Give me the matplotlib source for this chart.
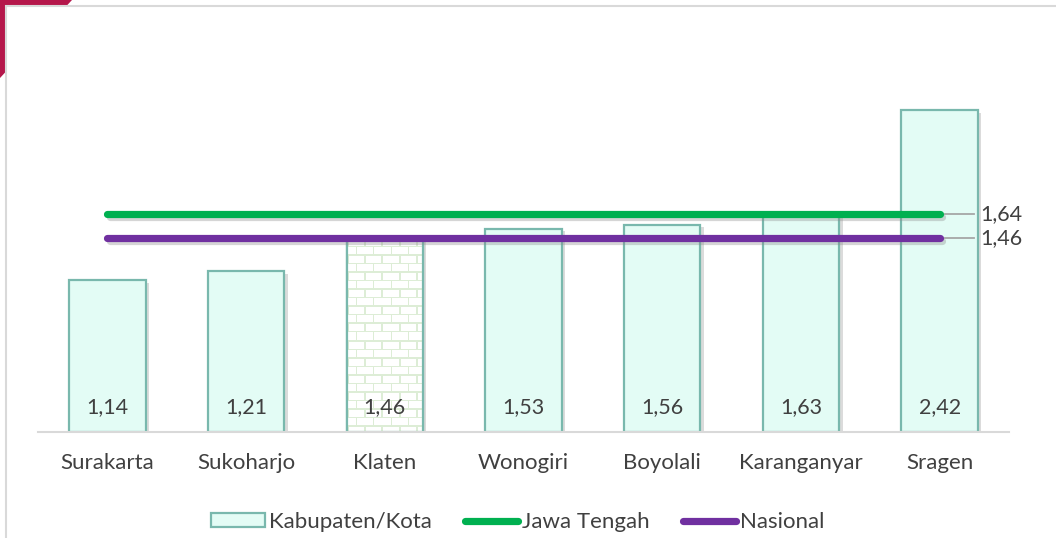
import numpy as np
import matplotlib
matplotlib.use("Agg")
import matplotlib.pyplot as plt
from matplotlib.patches import Rectangle, Polygon
from matplotlib.lines import Line2D
import matplotlib.patheffects as pe

categories = ["Surakarta", "Sukoharjo", "Klaten", "Wonogiri", "Boyolali", "Karanganyar", "Sragen"]
values = [1.14, 1.21, 1.46, 1.53, 1.56, 1.63, 2.42]
value_labels = ["1,14", "1,21", "1,46", "1,53", "1,56", "1,63", "2,42"]
jateng = 1.64
jateng_label = "1,64"
nasional = 1.46
nasional_label = "1,46"
highlight = "Klaten"
legend_labels = ["Kabupaten/Kota", "Jawa Tengah", "Nasional"]

W, H = 1056, 538
plt.rcParams['font.family'] = ['Lato', 'DejaVu Sans']
fig = plt.figure(figsize=(W / 100, H / 100), dpi=100)

# slide background decoration
bg = fig.add_axes([0, 0, 1, 1], zorder=-10)
bg.set_xlim(0, W); bg.set_ylim(H, 0); bg.axis('off')
bg.add_patch(Polygon([(0, 0), (72, 0), (0, 78)], closed=True, color='#B5174B', lw=0))
bg.add_patch(Rectangle((6, 6), W, H, facecolor='white', edgecolor='#D9D9D9', lw=1.5))

fill = '#E3FCF5'
edge = '#79B8AD'
txt = '#404040'
green = '#00B050'
purple = '#7030A0'

left, right = 38 / W, 1009 / W
bottom = 1 - 432 / H
top_px = 10
ax = fig.add_axes([left, bottom, right - left, (432 - top_px) / H])
ymax = (432 - top_px) / 133.0
ax.set_xlim(-0.5, len(categories) - 0.5)
ax.set_ylim(0, ymax)
ax.axis('off')

x = np.arange(len(categories))
bw = 0.55
shadow = [pe.SimplePatchShadow(offset=(2.5, -2), shadow_rgbFace='#999999', alpha=0.35), pe.Normal()]
bars = ax.bar(x, values, width=bw, color=fill, edgecolor=edge, linewidth=1.6, zorder=2)
for b in bars:
    b.set_path_effects(shadow)

# brick texture for highlighted category
hi = categories.index(highlight)
hb = bars[hi]
hb.set_facecolor('white')
bw_px, bh_px = 76, int(round(values[hi] * 133))
img = np.ones((bh_px, bw_px, 3))
mortar = np.array([0.87, 0.93, 0.84])
brick_h, brick_w = 8.5, 17
for r in range(bh_px):
    row = int(r // brick_h)
    if (r % brick_h) < 1.5:
        img[r, :, :] = mortar
    off = 0 if row % 2 == 0 else brick_w / 2
    for c in range(bw_px):
        if ((c + off) % brick_w) < 1.5:
            img[r, c, :] = mortar
im = ax.imshow(img, extent=(hi - bw / 2, hi + bw / 2, 0, values[hi]), aspect='auto',
               interpolation='nearest', zorder=2.5, origin='upper')
im.set_clip_path(hb)
ax.bar([hi], [values[hi]], width=bw, facecolor='none', edgecolor=edge, linewidth=1.6, zorder=2.6)
ax.set_xlim(-0.5, len(categories) - 0.5)
ax.set_ylim(0, ymax)

# baseline
ax.plot([-0.5, len(categories) - 0.5], [0, 0], color='#D9D9D9', lw=1.5, zorder=3, clip_on=False)

# value labels
for xi, lab in zip(x, value_labels):
    ax.text(xi, 0.19, lab, ha='center', va='center', fontsize=15.5, color=txt, zorder=4)

# category labels
for xi, lab in zip(x, categories):
    ax.text(xi, -31 / 133, lab, ha='center', va='center', fontsize=16, color=txt, clip_on=False)

# reference lines
lshadow = [pe.SimpleLineShadow(offset=(2, -2.5), shadow_color='#888888', alpha=0.35), pe.Normal()]
for val, col, lab in [(jateng, green, jateng_label), (nasional, purple, nasional_label)]:
    ax.plot([x[0], x[-1]], [val, val], color=col, lw=5.2, solid_capstyle='round', zorder=5,
            path_effects=lshadow)
    ax.plot([x[-1] + 0.04, x[-1] + 0.25], [val, val], color='#A6A6A6', lw=1.3, zorder=4, clip_on=False)
    ax.text(x[-1] + 0.29, val, lab, ha='left', va='center', fontsize=15.5, color=txt, clip_on=False)

# legend
handles = [Rectangle((0, 0), 1, 1, facecolor=fill, edgecolor=edge, lw=1.6),
           Line2D([0], [0], color=green, lw=5.2, solid_capstyle='round'),
           Line2D([0], [0], color=purple, lw=5.2, solid_capstyle='round')]
fig.legend(handles, legend_labels, loc='center', bbox_to_anchor=(0.5 - 10 / W, 1 - 522 / H), ncol=3,
           frameon=False, fontsize=16, handlelength=2.4, handleheight=0.6, handletextpad=0.18,
           columnspacing=1.5, labelcolor=txt)

fig.savefig('out.png', dpi=100)
